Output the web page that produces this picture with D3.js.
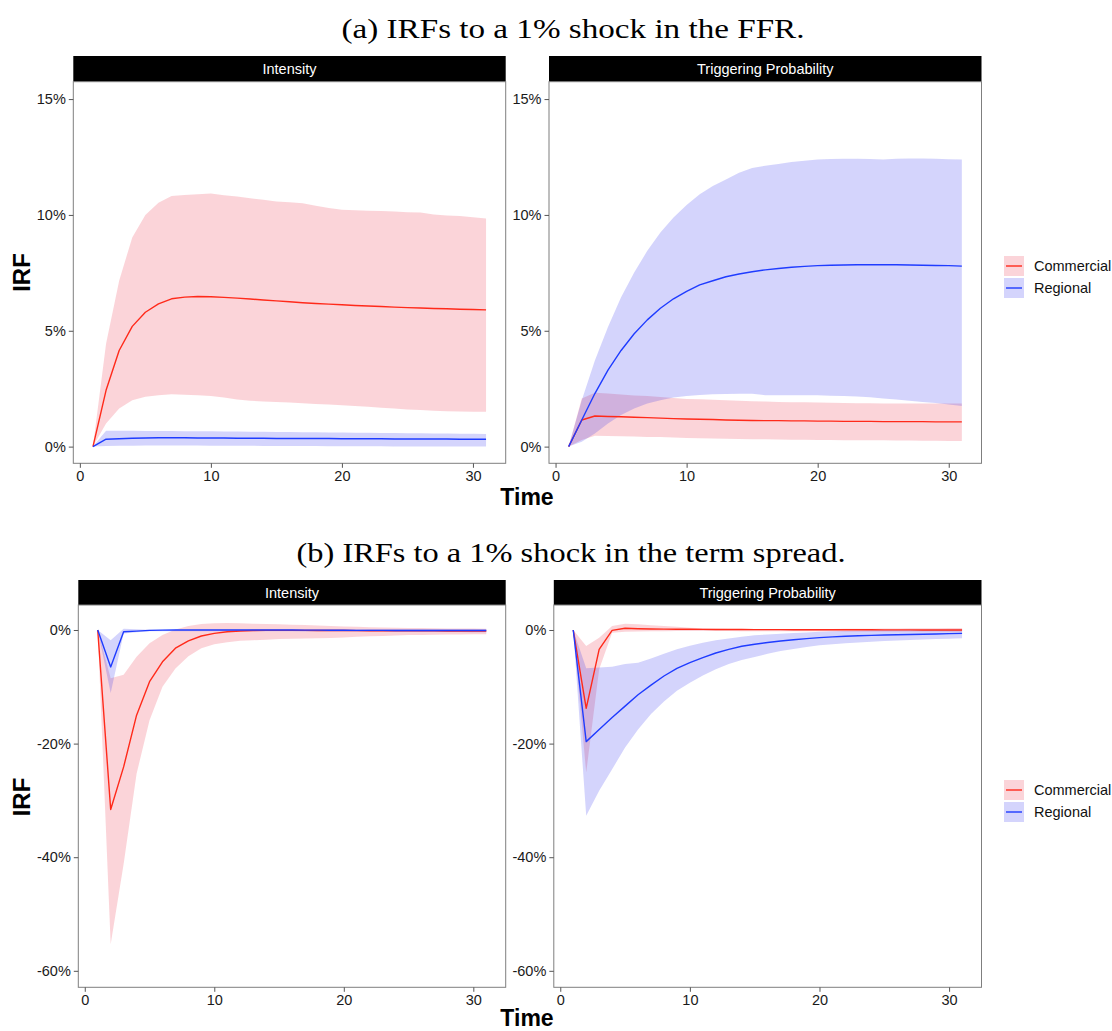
<!DOCTYPE html>
<html><head><meta charset="utf-8">
<script src="https://cdn.jsdelivr.net/npm/d3@7"></script>
<style>body{margin:0;background:#fff}svg{display:block}</style>
</head><body>
<svg id="chart" width="1112" height="1031"></svg>
<script>
// ---------- data ----------
const time = d3.range(1, 32);
const seriesNames = ["Commercial", "Regional"];
const panelTitles = ["Intensity", "Triggering Probability"];
const figureTitles = ["(a) IRFs to a 1% shock in the FFR.", "(b) IRFs to a 1% shock in the term spread."];
const ticksTopY = [0, 5, 10, 15];
const ticksBottomY = [-60, -40, -20, 0];
const ticksX = [0, 10, 20, 30];

// (a) FFR shock – Intensity
const ffrIntComMean = [0,2.43,4.15,5.19,5.8,6.16,6.38,6.45,6.48,6.47,6.44,6.41,6.37,6.33,6.29,6.25,6.21,6.18,6.15,6.12,6.09,6.07,6.05,6.02,6.0,5.98,5.96,5.95,5.93,5.92,5.9];
const ffrIntComHi = [0,4.44,7.16,9.03,10.0,10.53,10.82,10.86,10.89,10.92,10.85,10.8,10.72,10.65,10.58,10.55,10.5,10.4,10.3,10.22,10.2,10.18,10.17,10.15,10.12,10.1,10.02,9.98,9.95,9.9,9.85];
const ffrIntComLo = [0,1.0,1.65,2.0,2.15,2.22,2.26,2.24,2.22,2.18,2.12,2.03,1.98,1.95,1.93,1.9,1.87,1.84,1.82,1.79,1.75,1.72,1.68,1.64,1.6,1.58,1.55,1.53,1.52,1.51,1.5];
const ffrIntRegMean = [0,0.32,0.34,0.36,0.37,0.38,0.38,0.38,0.37,0.37,0.37,0.36,0.36,0.36,0.35,0.35,0.35,0.35,0.35,0.34,0.34,0.34,0.34,0.33,0.33,0.33,0.33,0.33,0.32,0.32,0.32];
const ffrIntRegHi = [0,0.68,0.68,0.68,0.67,0.67,0.67,0.66,0.66,0.66,0.65,0.65,0.64,0.64,0.63,0.63,0.62,0.62,0.61,0.61,0.6,0.6,0.59,0.59,0.58,0.58,0.57,0.57,0.56,0.56,0.55];
const ffrIntRegLo = [0,0.03,0.04,0.04,0.05,0.05,0.05,0.05,0.05,0.04,0.04,0.04,0.04,0.03,0.03,0.03,0.03,0.03,0.02,0.02,0.02,0.02,0.02,0.01,0.01,0.01,0.01,0.0,0.0,0.0,0.0];

// (a) FFR shock – Triggering Probability
const ffrTrgComMean = [0,1.15,1.32,1.3,1.29,1.27,1.25,1.23,1.21,1.19,1.18,1.17,1.15,1.14,1.13,1.12,1.12,1.11,1.11,1.1,1.1,1.09,1.09,1.09,1.08,1.08,1.08,1.08,1.07,1.07,1.07];
const ffrTrgComHi = [0,2.08,2.32,2.29,2.25,2.21,2.18,2.14,2.1,2.06,2.04,2.02,2.0,1.98,1.96,1.95,1.93,1.92,1.91,1.9,1.89,1.88,1.87,1.87,1.86,1.86,1.86,1.86,1.86,1.86,1.86];
const ffrTrgComLo = [0,0.29,0.47,0.46,0.45,0.44,0.42,0.41,0.39,0.37,0.36,0.35,0.34,0.33,0.32,0.32,0.31,0.3,0.3,0.29,0.29,0.28,0.28,0.27,0.27,0.26,0.26,0.25,0.25,0.24,0.24];
const ffrTrgRegMean = [0,1.15,2.29,3.3,4.15,4.87,5.47,5.97,6.38,6.7,6.98,7.16,7.33,7.45,7.55,7.63,7.69,7.74,7.78,7.81,7.83,7.84,7.85,7.85,7.85,7.85,7.84,7.83,7.82,7.81,7.79];
const ffrTrgRegHi = [0,2.0,3.72,5.16,6.45,7.52,8.45,9.24,9.89,10.43,10.89,11.25,11.53,11.82,12.03,12.12,12.2,12.28,12.34,12.39,12.41,12.42,12.42,12.41,12.39,12.42,12.44,12.44,12.42,12.4,12.39];
const ffrTrgRegLo = [0,0.21,0.57,1.0,1.36,1.65,1.86,2.0,2.12,2.19,2.23,2.26,2.27,2.28,2.28,2.22,2.22,2.22,2.22,2.22,2.2,2.18,2.16,2.13,2.08,2.03,1.98,1.93,1.88,1.82,1.75];

// (b) term-spread shock – Intensity
const tsIntComMean = [0,-31.6,-24.1,-15.0,-9.1,-5.6,-3.2,-1.9,-1.06,-0.6,-0.3,-0.18,-0.1,-0.07,-0.06,-0.06,-0.07,-0.08,-0.09,-0.1,-0.11,-0.12,-0.13,-0.14,-0.15,-0.15,-0.16,-0.17,-0.17,-0.18,-0.18];
const tsIntComHi = [0,-8.5,-7.9,-4.7,-2.35,-0.9,0.1,0.7,1.06,1.18,1.24,1.18,1.12,1.06,1.0,0.93,0.86,0.78,0.7,0.6,0.55,0.5,0.45,0.4,0.35,0.33,0.3,0.28,0.26,0.25,0.24];
const tsIntComLo = [0,-55.3,-41.2,-25.3,-15.9,-10.0,-6.8,-4.6,-3.2,-2.5,-2.15,-1.9,-1.8,-1.7,-1.6,-1.55,-1.5,-1.45,-1.4,-1.3,-1.2,-1.12,-1.05,-0.98,-0.9,-0.87,-0.84,-0.81,-0.79,-0.77,-0.76];
const tsIntRegMean = [0,-6.5,-0.3,-0.2,-0.06,-0.03,0,0,0,0,0,0,0,0,0,-0.01,-0.02,-0.03,-0.04,-0.05,-0.06,-0.07,-0.07,-0.08,-0.08,-0.09,-0.09,-0.1,-0.1,-0.1,-0.1];
const tsIntRegHi = [0,-1.8,0.24,0.12,0.05,0.05,0.05,0.06,0.07,0.08,0.09,0.1,0.1,0.11,0.12,0.13,0.13,0.14,0.14,0.15,0.15,0.16,0.16,0.16,0.17,0.17,0.17,0.18,0.18,0.18,0.18];
const tsIntRegLo = [0,-11.1,-0.6,-0.4,-0.24,-0.22,-0.2,-0.2,-0.2,-0.2,-0.2,-0.2,-0.21,-0.22,-0.23,-0.24,-0.25,-0.26,-0.27,-0.28,-0.29,-0.3,-0.31,-0.32,-0.33,-0.34,-0.35,-0.36,-0.37,-0.38,-0.4];

// (b) term-spread shock – Triggering Probability
const tsTrgComMean = [0,-13.8,-3.4,-0.06,0.3,0.23,0.18,0.15,0.13,0.12,0.11,0.1,0.09,0.08,0.07,0.06,0.06,0.05,0.05,0.04,0.04,0.03,0.03,0.03,0.02,0.02,0.02,0.01,0.01,0.0,0.0];
const tsTrgComHi = [0,-2.8,-1.35,0.7,1.1,1.0,0.85,0.7,0.55,0.4,0.3,0.22,0.18,0.14,0.12,0.12,0.13,0.14,0.15,0.17,0.18,0.2,0.22,0.24,0.26,0.28,0.3,0.31,0.32,0.34,0.35];
const tsTrgComLo = [0,-25.1,-6.9,-0.47,-0.3,-0.25,-0.22,-0.2,-0.19,-0.18,-0.18,-0.18,-0.19,-0.2,-0.2,-0.21,-0.22,-0.23,-0.23,-0.24,-0.24,-0.25,-0.25,-0.26,-0.26,-0.27,-0.27,-0.28,-0.28,-0.29,-0.3];
const tsTrgRegMean = [0,-19.65,-17.5,-15.4,-13.4,-11.4,-9.7,-8.1,-6.75,-5.75,-4.87,-4.05,-3.4,-2.87,-2.5,-2.2,-1.94,-1.72,-1.52,-1.35,-1.22,-1.1,-1.02,-0.95,-0.88,-0.84,-0.8,-0.76,-0.7,-0.64,-0.59];
const tsTrgRegHi = [0,-6.75,-6.6,-6.45,-6.0,-5.75,-5.0,-4.2,-3.4,-2.76,-2.25,-1.8,-1.5,-1.2,-0.94,-0.78,-0.64,-0.52,-0.42,-0.3,-0.24,-0.18,-0.12,-0.06,0,0.02,0.04,0.06,0.08,0.1,0.12];
const tsTrgRegLo = [0,-32.7,-28.3,-24.5,-20.7,-17.5,-14.8,-12.6,-10.7,-9.3,-8.0,-6.9,-6.0,-5.3,-4.75,-4.2,-3.7,-3.35,-3.0,-2.7,-2.5,-2.35,-2.2,-2.07,-1.94,-1.85,-1.76,-1.68,-1.6,-1.53,-1.47];

// ---------- styles ----------
const lineColor = { Commercial: "#ff2a1a", Regional: "#1f3cff" };
const bandColor = { Commercial: "rgba(238,60,80,0.22)", Regional: "rgba(40,40,240,0.2)" };
const sansFont = "'Liberation Sans', Arial, Helvetica, sans-serif";
const serifFont = "'Liberation Serif', 'Times New Roman', serif";

const svg = d3.select("#chart");

function seriesData(mean, lo, hi) {
  return time.map((t, i) => ({ t, m: mean[i], lo: lo[i], hi: hi[i] }));
}

function drawPanel(cfg) {
  const { x0, x1, y0, y1, stripTop, yDomain, yTicks, label, series } = cfg;
  const x = d3.scaleLinear().domain([-0.5, 32.5]).range([x0, x1]);
  const y = d3.scaleLinear().domain(yDomain).range([y1, y0]);
  const g = svg.append("g");

  // strip
  g.append("rect").attr("x", x0).attr("y", stripTop).attr("width", x1 - x0).attr("height", y0 - stripTop).attr("fill", "#000");
  g.append("text").attr("x", (x0 + x1) / 2).attr("y", (stripTop + y0) / 2 + 5)
    .attr("text-anchor", "middle").attr("fill", "#fff").attr("font-family", sansFont).attr("font-size", 14.5).text(label);

  const clipId = "clip" + Math.round(x0) + "_" + Math.round(y0);
  g.append("clipPath").attr("id", clipId).append("rect").attr("x", x0).attr("y", y0).attr("width", x1 - x0).attr("height", y1 - y0);
  const plot = g.append("g").attr("clip-path", `url(#${clipId})`);

  const area = d3.area().x(d => x(d.t)).y0(d => y(d.lo)).y1(d => y(d.hi));
  const line = d3.line().x(d => x(d.t)).y(d => y(d.m));

  series.forEach(s => {
    plot.append("path").datum(s.data).attr("d", area).attr("fill", bandColor[s.name]).attr("stroke", "none");
  });
  series.forEach(s => {
    plot.append("path").datum(s.data).attr("d", line).attr("fill", "none")
      .attr("stroke", lineColor[s.name]).attr("stroke-width", 1.4).attr("stroke-linejoin", "round");
  });

  // border
  g.append("rect").attr("x", x0).attr("y", y0).attr("width", x1 - x0).attr("height", y1 - y0)
    .attr("fill", "none").attr("stroke", "#7f7f7f").attr("stroke-width", 1);

  // axes
  const xAxis = d3.axisBottom(x).tickValues(ticksX).tickSize(4.5).tickPadding(3).tickFormat(d => d);
  const yAxis = d3.axisLeft(y).tickValues(yTicks).tickSize(4.5).tickPadding(3).tickFormat(d => d + "%");
  const gx = g.append("g").attr("transform", `translate(0,${y1})`).call(xAxis);
  const gy = g.append("g").attr("transform", `translate(${x0},0)`).call(yAxis);
  [gx, gy].forEach(a => {
    a.select(".domain").remove();
    a.selectAll(".tick line").attr("stroke", "#555").attr("stroke-width", 1);
    a.selectAll(".tick text").attr("font-family", sansFont).attr("font-size", 14.5).attr("fill", "#1a1a1a");
  });
}

function drawLegend(cy) {
  const g = svg.append("g");
  seriesNames.forEach((name, i) => {
    const top = cy - 21 + i * 22;
    g.append("rect").attr("x", 1004).attr("y", top).attr("width", 20).attr("height", 20).attr("fill", bandColor[name]);
    g.append("line").attr("x1", 1006).attr("x2", 1022).attr("y1", top + 10).attr("y2", top + 10)
      .attr("stroke", lineColor[name]).attr("stroke-width", 1.4);
    g.append("text").attr("x", 1034).attr("y", top + 15).attr("font-family", sansFont).attr("font-size", 14.5)
      .attr("fill", "#111").text(name);
  });
}

function axisTitles(irfY, timeY) {
  svg.append("text").attr("transform", `translate(29.5,${irfY}) rotate(-90)`).attr("text-anchor", "middle")
    .attr("font-family", sansFont).attr("font-weight", "bold").attr("font-size", 24).text("IRF");
  svg.append("text").attr("x", 527).attr("y", timeY).attr("text-anchor", "middle")
    .attr("font-family", sansFont).attr("font-weight", "bold").attr("font-size", 23).text("Time");
}

// ---------- figure (a) ----------
svg.append("text").attr("x", 573).attr("y", 38).attr("text-anchor", "middle").attr("font-family", serifFont)
  .attr("font-size", 27).attr("textLength", 463).attr("lengthAdjust", "spacingAndGlyphs").text(figureTitles[0]);

const topCfg = { y0: 81.7, y1: 463.3, stripTop: 56, yDomain: [-0.72, 15.75], yTicks: ticksTopY };
drawPanel(Object.assign({}, topCfg, { x0: 73.3, x1: 505.7, label: panelTitles[0], series: [
  { name: "Commercial", data: seriesData(ffrIntComMean, ffrIntComLo, ffrIntComHi) },
  { name: "Regional", data: seriesData(ffrIntRegMean, ffrIntRegLo, ffrIntRegHi) }] }));
drawPanel(Object.assign({}, topCfg, { x0: 549, x1: 981.5, label: panelTitles[1], series: [
  { name: "Commercial", data: seriesData(ffrTrgComMean, ffrTrgComLo, ffrTrgComHi) },
  { name: "Regional", data: seriesData(ffrTrgRegMean, ffrTrgRegLo, ffrTrgRegHi) }] }));
drawLegend(277);
axisTitles(272.5, 505);

// ---------- figure (b) ----------
svg.append("text").attr("x", 571).attr("y", 562).attr("text-anchor", "middle").attr("font-family", serifFont)
  .attr("font-size", 27).attr("textLength", 549).attr("lengthAdjust", "spacingAndGlyphs").text(figureTitles[1]);

const botCfg = { y0: 605, y1: 987.3, stripTop: 580, yDomain: [-62.9, 4.4], yTicks: ticksBottomY };
drawPanel(Object.assign({}, botCfg, { x0: 78.3, x1: 505.7, label: panelTitles[0], series: [
  { name: "Commercial", data: seriesData(tsIntComMean, tsIntComLo, tsIntComHi) },
  { name: "Regional", data: seriesData(tsIntRegMean, tsIntRegLo, tsIntRegHi) }] }));
drawPanel(Object.assign({}, botCfg, { x0: 553.8, x1: 981.5, label: panelTitles[1], series: [
  { name: "Commercial", data: seriesData(tsTrgComMean, tsTrgComLo, tsTrgComHi) },
  { name: "Regional", data: seriesData(tsTrgRegMean, tsTrgRegLo, tsTrgRegHi) }] }));
drawLegend(801);
axisTitles(797, 1026);
</script>
</body></html>
